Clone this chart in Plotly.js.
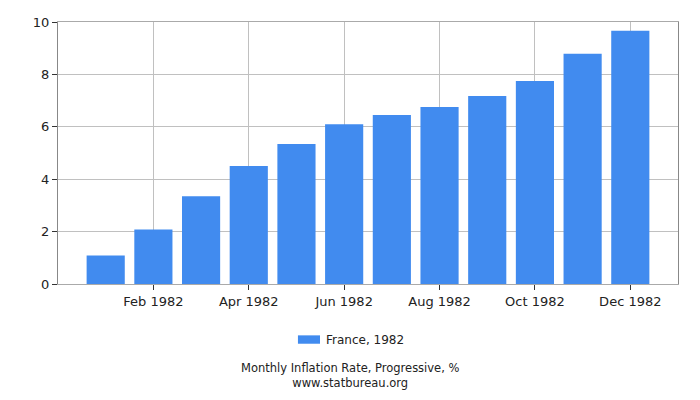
<!DOCTYPE html>
<html>
<head>
<meta charset="utf-8">
<script src="https://cdn.plot.ly/plotly-3.0.1.min.js"></script>
<style>
  html, body { margin: 0; padding: 0; background: #fff; }
  #chart { width: 700px; height: 400px; }
</style>
</head>
<body>
<div id="chart"></div>
<script>
// ── Données ───────────────────────────────────────────────────────────────
const months = ['Jan 1982','Feb 1982','Mar 1982','Apr 1982','May 1982','Jun 1982',
                'Jul 1982','Aug 1982','Sep 1982','Oct 1982','Nov 1982','Dec 1982'];
const values = [1.09, 2.08, 3.35, 4.50, 5.34, 6.10, 6.45, 6.76, 7.18, 7.75, 8.79, 9.67];
const tickMonths = ['Feb 1982','Apr 1982','Jun 1982','Aug 1982','Oct 1982','Dec 1982'];
const seriesName = 'France, 1982';
const chartTitle = 'Monthly Inflation Rate, Progressive, %';
const source = 'www.statbureau.org';

const FONT = 'DejaVu Sans, sans-serif';
const BAR = '#418bef';

const traces = [{
  type: 'bar', x: months, y: values, name: seriesName,
  marker: { color: BAR }, width: 0.8, showlegend: false,
  hovertemplate: '%{x}: %{y:.2f} %<extra></extra>'
}];

// légende dessinée à la main (rectangle plus large que le carré de Plotly)
const layout = {
  width: 700, height: 400,
  margin: { l: 58, r: 22, t: 22, b: 116 },
  paper_bgcolor: '#fff', plot_bgcolor: '#fff',
  font: { family: FONT, size: 13, color: '#222' },
  showlegend: false,
  xaxis: {
    type: 'category', range: [-1, 12],
    tickvals: tickMonths, ticktext: tickMonths,
    showgrid: true, gridcolor: '#c0c0c0', gridwidth: 1,
    ticks: 'outside', ticklen: 5, tickcolor: '#333',
    showline: true, linecolor: '#aaa', mirror: true,
    tickfont: { size: 13 }, fixedrange: true
  },
  yaxis: {
    range: [0, 10], tickvals: [0,2,4,6,8,10],
    showgrid: true, gridcolor: '#c0c0c0', gridwidth: 1,
    ticks: 'outside', ticklen: 5, tickcolor: '#333',
    showline: true, linecolor: '#888', mirror: true,
    zeroline: false, tickfont: { size: 13 }, fixedrange: true
  },
  shapes: [
    { type: 'rect', xref: 'paper', yref: 'paper', x0: 0.387, x1: 0.4226, y0: -0.196, y1: -0.228,
      fillcolor: BAR, line: { width: 0 } }
  ],
  annotations: [
    { text: seriesName, xref: 'paper', yref: 'paper', x: 0.429, y: -0.214,
      xanchor: 'left', yanchor: 'middle', showarrow: false, font: { size: 12, color: '#222' } },
    { text: chartTitle + '<br>' + source, xref: 'paper', yref: 'paper', x: 0.471, y: -0.351,
      xanchor: 'center', yanchor: 'middle', showarrow: false, font: { size: 11.5, color: '#222' } }
  ]
};

Plotly.newPlot('chart', traces, layout, { displayModeBar: false, staticPlot: true });
</script>
</body>
</html>
